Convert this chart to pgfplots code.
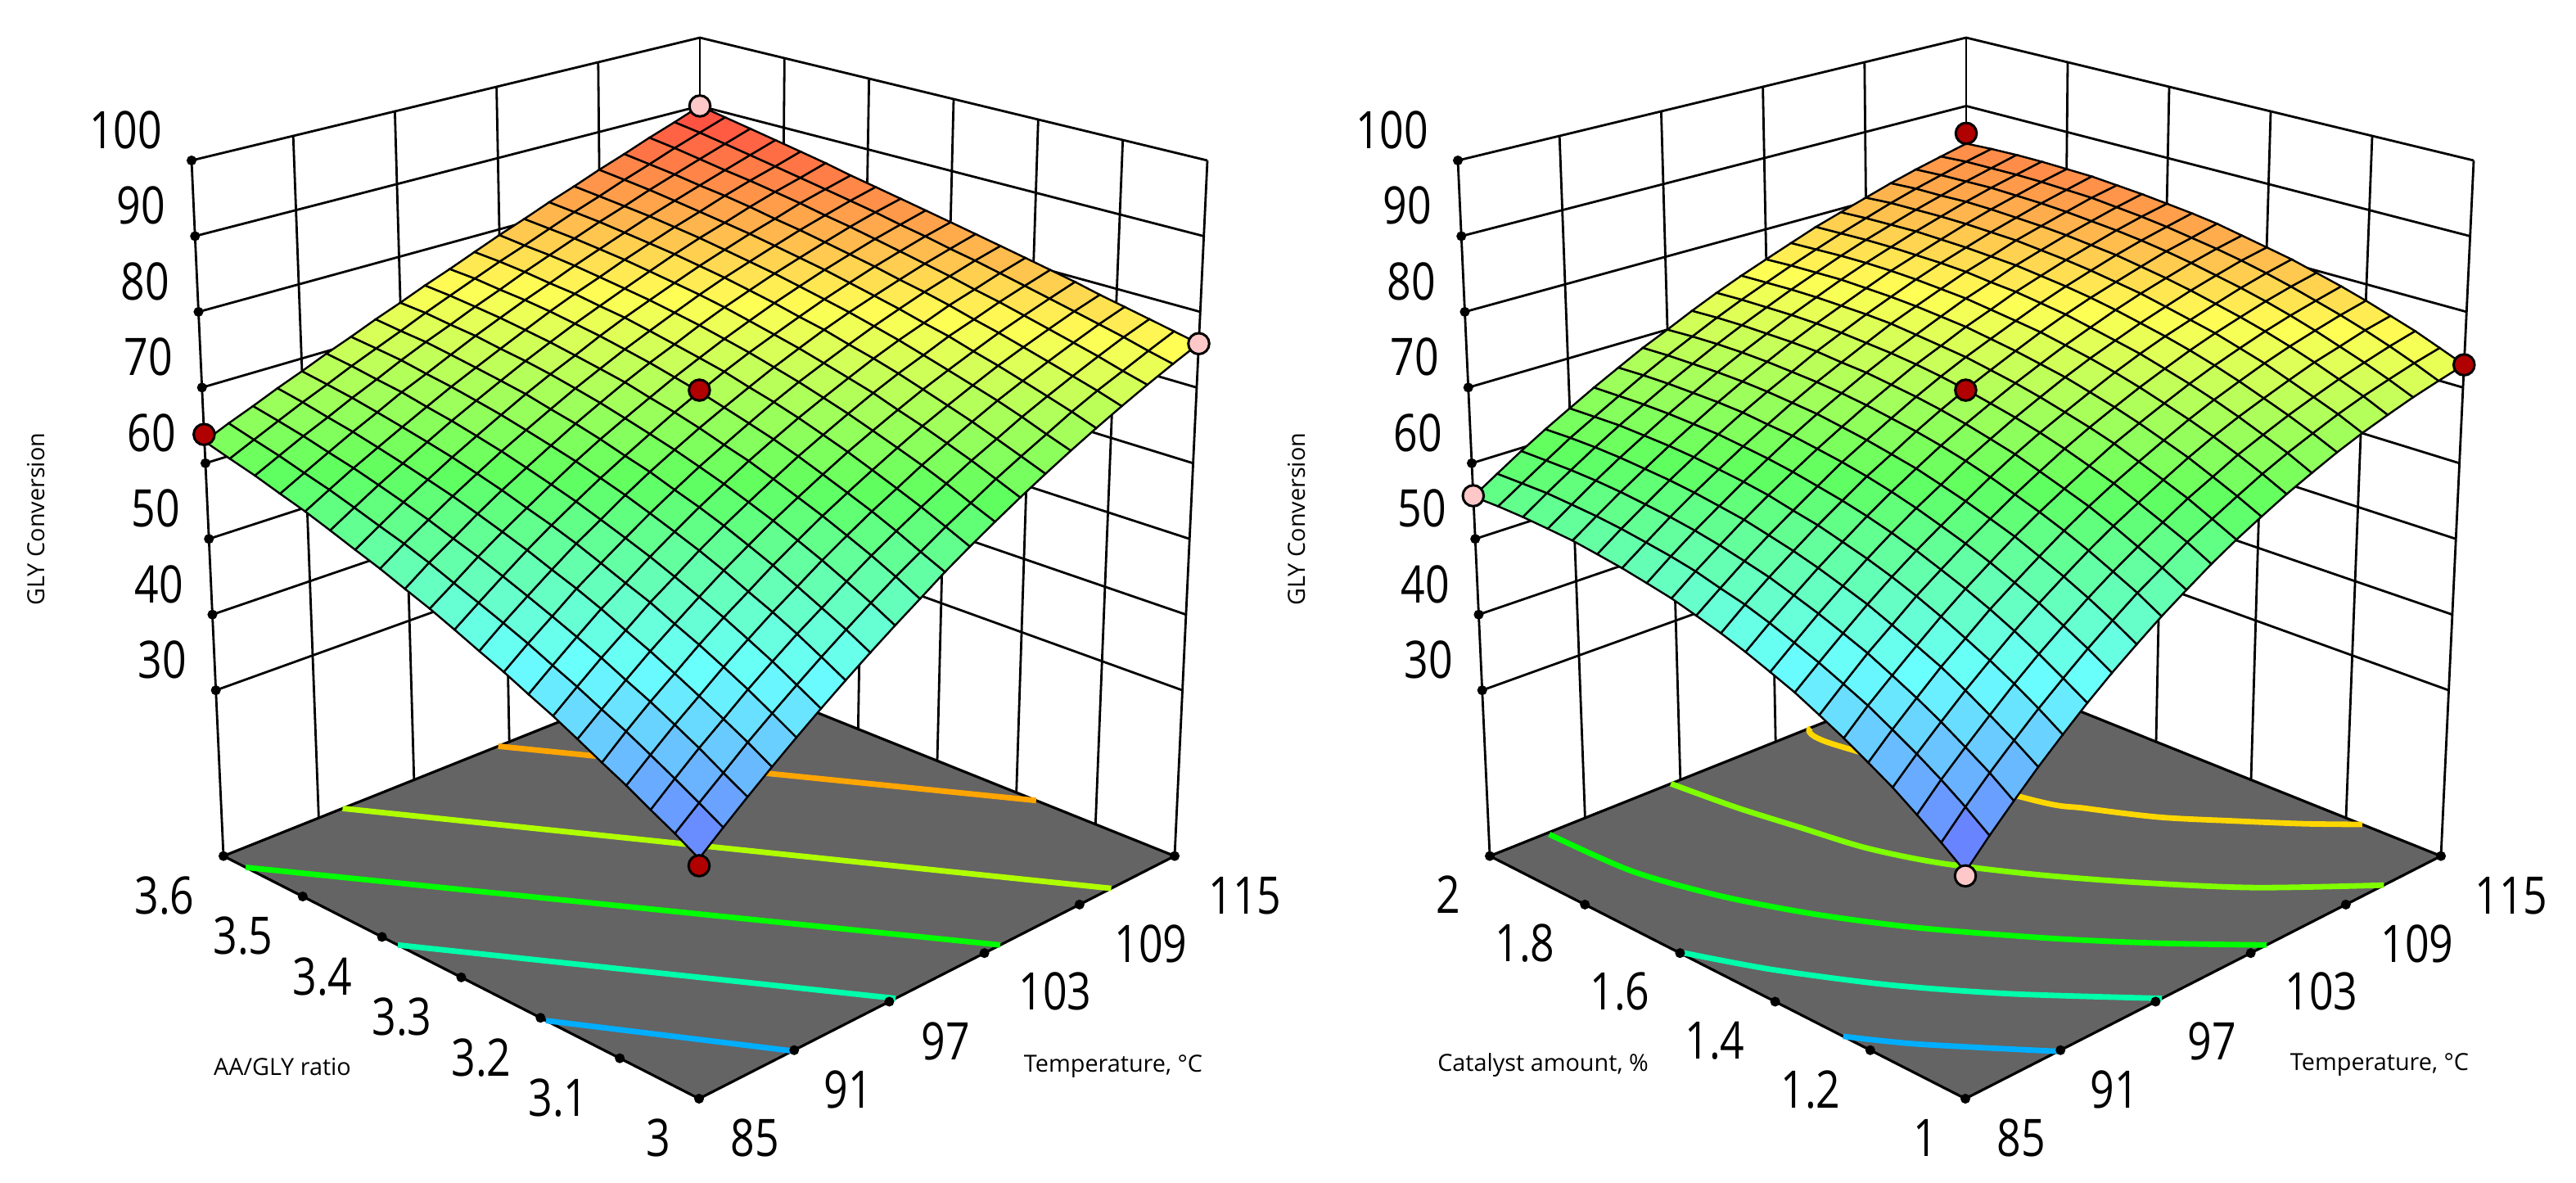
\documentclass[border=0pt]{standalone}
\usepackage{fontspec}
\setmainfont{Open Sans}
\newfontfamily\tickfont[FakeStretch=0.82]{Open Sans}
\usepackage{pgfplots}
\usepackage{pgfplotstable}
\pgfplotsset{compat=1.18}
\definecolor{floorgray}{RGB}{100,100,100}
\definecolor{ballred}{RGB}{176,0,0}
\definecolor{ballpink}{RGB}{255,200,200}
\definecolor{ctblue}{RGB}{0,174,255}
\definecolor{ctteal}{RGB}{0,255,170}
\definecolor{ctgreen}{RGB}{0,255,0}
\definecolor{ctlime}{RGB}{176,255,0}
\definecolor{ctlimeb}{RGB}{127,255,0}
\definecolor{ctorange}{RGB}{255,165,0}
\definecolor{ctgold}{RGB}{255,215,0}

% conversion on the grid: 21 x 21 values, one line per ratio/catalyst level, temperature rising along the line
\pgfplotstableread[row sep=\\,header=false]{
31.7\\33.9\\36.1\\38.3\\40.5\\42.7\\44.9\\47.1\\49.3\\51.5\\53.8\\56.0\\58.2\\60.4\\62.6\\64.8\\67.0\\69.2\\71.4\\73.6\\75.8\\
33.3\\35.5\\37.7\\40.0\\42.2\\44.4\\46.6\\48.8\\51.0\\53.2\\55.3\\57.5\\59.6\\61.8\\63.9\\66.0\\68.2\\70.3\\72.3\\74.4\\76.5\\
34.8\\37.1\\39.4\\41.6\\43.9\\46.1\\48.3\\50.4\\52.6\\54.8\\56.9\\59.0\\61.1\\63.2\\65.2\\67.3\\69.3\\71.3\\73.3\\75.3\\77.2\\
36.4\\38.7\\41.0\\43.2\\45.5\\47.7\\49.9\\52.0\\54.2\\56.3\\58.4\\60.4\\62.5\\64.5\\66.5\\68.5\\70.4\\72.3\\74.2\\76.1\\77.9\\
37.9\\40.3\\42.6\\44.8\\47.1\\49.3\\51.4\\53.6\\55.7\\57.8\\59.8\\61.8\\63.8\\65.8\\67.7\\69.6\\71.5\\73.3\\75.1\\76.9\\78.6\\
39.5\\41.8\\44.1\\46.4\\48.6\\50.8\\53.0\\55.1\\57.2\\59.2\\61.2\\63.2\\65.1\\67.0\\68.9\\70.7\\72.5\\74.3\\76.0\\77.7\\79.4\\
41.1\\43.4\\45.7\\47.9\\50.2\\52.3\\54.5\\56.6\\58.6\\60.6\\62.6\\64.5\\66.4\\68.3\\70.1\\71.8\\73.6\\75.2\\76.9\\78.5\\80.1\\
42.6\\44.9\\47.2\\49.5\\51.6\\53.8\\55.9\\58.0\\60.0\\62.0\\63.9\\65.8\\67.6\\69.4\\71.2\\72.9\\74.5\\76.2\\77.7\\79.3\\80.8\\
44.2\\46.5\\48.7\\51.0\\53.1\\55.2\\57.3\\59.3\\61.3\\63.2\\65.1\\67.0\\68.8\\70.5\\72.2\\73.9\\75.5\\77.1\\78.6\\80.1\\81.5\\
45.7\\48.0\\50.2\\52.4\\54.6\\56.6\\58.7\\60.7\\62.6\\64.5\\66.3\\68.1\\69.9\\71.6\\73.3\\74.9\\76.4\\77.9\\79.4\\80.8\\82.2\\
47.3\\49.5\\51.7\\53.9\\56.0\\58.0\\60.0\\61.9\\63.8\\65.7\\67.5\\69.3\\71.0\\72.6\\74.2\\75.8\\77.3\\78.8\\80.2\\81.6\\82.9\\
48.9\\51.0\\53.2\\55.3\\57.3\\59.3\\61.3\\63.2\\65.0\\66.8\\68.6\\70.3\\72.0\\73.6\\75.2\\76.7\\78.2\\79.6\\81.0\\82.3\\83.6\\
50.4\\52.6\\54.6\\56.7\\58.7\\60.6\\62.5\\64.4\\66.2\\68.0\\69.7\\71.3\\73.0\\74.6\\76.1\\77.6\\79.0\\80.4\\81.8\\83.1\\84.3\\
52.0\\54.1\\56.1\\58.1\\60.0\\61.9\\63.7\\65.5\\67.3\\69.0\\70.7\\72.3\\73.9\\75.5\\77.0\\78.4\\79.8\\81.2\\82.5\\83.8\\85.0\\
53.5\\55.5\\57.5\\59.4\\61.3\\63.1\\64.9\\66.7\\68.4\\70.0\\71.7\\73.3\\74.8\\76.3\\77.8\\79.2\\80.6\\81.9\\83.3\\84.5\\85.7\\
55.1\\57.0\\58.9\\60.7\\62.5\\64.3\\66.0\\67.7\\69.4\\71.0\\72.6\\74.1\\75.6\\77.1\\78.6\\80.0\\81.3\\82.7\\84.0\\85.2\\86.5\\
56.7\\58.5\\60.3\\62.0\\63.7\\65.4\\67.1\\68.7\\70.3\\71.9\\73.5\\75.0\\76.4\\77.9\\79.3\\80.7\\82.0\\83.4\\84.7\\85.9\\87.2\\
58.2\\59.9\\61.6\\63.3\\64.9\\66.6\\68.1\\69.7\\71.3\\72.8\\74.3\\75.7\\77.2\\78.6\\80.0\\81.4\\82.7\\84.0\\85.3\\86.6\\87.9\\
59.8\\61.4\\63.0\\64.5\\66.1\\67.6\\69.2\\70.7\\72.1\\73.6\\75.0\\76.5\\77.9\\79.3\\80.7\\82.0\\83.4\\84.7\\86.0\\87.3\\88.6\\
61.3\\62.8\\64.3\\65.8\\67.2\\68.7\\70.1\\71.5\\73.0\\74.4\\75.8\\77.2\\78.5\\79.9\\81.3\\82.6\\84.0\\85.3\\86.7\\88.0\\89.3\\
62.9\\64.3\\65.6\\67.0\\68.3\\69.7\\71.0\\72.4\\73.7\\75.1\\76.4\\77.8\\79.2\\80.5\\81.9\\83.2\\84.6\\85.9\\87.3\\88.6\\90.0\\
}\surfA
\pgfplotstableread[row sep=\\,header=false]{
30.4\\33.1\\35.7\\38.3\\40.8\\43.3\\45.7\\48.0\\50.3\\52.5\\54.7\\56.8\\58.8\\60.8\\62.7\\64.6\\66.4\\68.1\\69.8\\71.4\\73.0\\
32.4\\35.1\\37.7\\40.2\\42.7\\45.1\\47.5\\49.8\\52.1\\54.2\\56.4\\58.4\\60.4\\62.4\\64.3\\66.1\\67.9\\69.6\\71.2\\72.8\\74.3\\
34.3\\37.0\\39.5\\42.0\\44.5\\46.9\\49.2\\51.5\\53.7\\55.8\\57.9\\60.0\\61.9\\63.9\\65.7\\67.5\\69.2\\70.9\\72.5\\74.1\\75.6\\
36.2\\38.8\\41.3\\43.8\\46.2\\48.6\\50.9\\53.1\\55.3\\57.4\\59.4\\61.4\\63.4\\65.3\\67.1\\68.8\\70.5\\72.2\\73.7\\75.3\\76.7\\
37.9\\40.5\\43.0\\45.5\\47.8\\50.2\\52.4\\54.6\\56.8\\58.9\\60.9\\62.8\\64.7\\66.6\\68.4\\70.1\\71.8\\73.4\\74.9\\76.4\\77.8\\
39.6\\42.2\\44.6\\47.0\\49.4\\51.7\\53.9\\56.1\\58.2\\60.2\\62.2\\64.2\\66.0\\67.8\\69.6\\71.3\\72.9\\74.5\\76.0\\77.4\\78.8\\
41.2\\43.7\\46.2\\48.5\\50.9\\53.1\\55.3\\57.4\\59.5\\61.5\\63.5\\65.4\\67.2\\69.0\\70.7\\72.4\\74.0\\75.5\\77.0\\78.4\\79.7\\
42.8\\45.2\\47.6\\50.0\\52.3\\54.5\\56.6\\58.7\\60.8\\62.8\\64.7\\66.5\\68.3\\70.1\\71.8\\73.4\\74.9\\76.4\\77.9\\79.3\\80.6\\
44.2\\46.6\\49.0\\51.3\\53.6\\55.8\\57.9\\59.9\\62.0\\63.9\\65.8\\67.6\\69.4\\71.1\\72.7\\74.3\\75.8\\77.3\\78.7\\80.1\\81.3\\
45.6\\48.0\\50.3\\52.6\\54.8\\57.0\\59.1\\61.1\\63.1\\65.0\\66.8\\68.6\\70.3\\72.0\\73.6\\75.2\\76.7\\78.1\\79.5\\80.8\\82.0\\
46.9\\49.3\\51.6\\53.8\\56.0\\58.1\\60.2\\62.1\\64.1\\66.0\\67.8\\69.5\\71.2\\72.9\\74.5\\76.0\\77.4\\78.8\\80.2\\81.4\\82.7\\
48.1\\50.4\\52.7\\54.9\\57.0\\59.1\\61.2\\63.1\\65.0\\66.9\\68.7\\70.4\\72.0\\73.6\\75.2\\76.7\\78.1\\79.5\\80.8\\82.0\\83.2\\
49.3\\51.6\\53.8\\56.0\\58.1\\60.1\\62.1\\64.0\\65.9\\67.7\\69.5\\71.1\\72.8\\74.3\\75.9\\77.3\\78.7\\80.0\\81.3\\82.5\\83.6\\
50.3\\52.6\\54.8\\56.9\\59.0\\61.0\\63.0\\64.9\\66.7\\68.5\\70.2\\71.8\\73.4\\75.0\\76.4\\77.9\\79.2\\80.5\\81.7\\82.9\\84.0\\
51.3\\53.5\\55.7\\57.8\\59.8\\61.8\\63.7\\65.6\\67.4\\69.1\\70.8\\72.5\\74.0\\75.5\\77.0\\78.3\\79.7\\80.9\\82.1\\83.3\\84.3\\
52.2\\54.4\\56.5\\58.6\\60.6\\62.6\\64.5\\66.3\\68.0\\69.8\\71.4\\73.0\\74.5\\76.0\\77.4\\78.7\\80.0\\81.2\\82.4\\83.5\\84.6\\
53.1\\55.2\\57.3\\59.3\\61.3\\63.2\\65.1\\66.9\\68.6\\70.3\\71.9\\73.4\\74.9\\76.4\\77.7\\79.0\\80.3\\81.5\\82.6\\83.7\\84.7\\
53.8\\55.9\\58.0\\60.0\\61.9\\63.8\\65.6\\67.4\\69.1\\70.7\\72.3\\73.8\\75.3\\76.7\\78.0\\79.3\\80.5\\81.7\\82.8\\83.8\\84.8\\
54.5\\56.6\\58.6\\60.6\\62.5\\64.3\\66.1\\67.8\\69.5\\71.1\\72.6\\74.1\\75.5\\76.9\\78.2\\79.4\\80.6\\81.7\\82.8\\83.8\\84.8\\
55.1\\57.1\\59.1\\61.1\\62.9\\64.7\\66.5\\68.2\\69.8\\71.4\\72.9\\74.3\\75.7\\77.0\\78.3\\79.5\\80.7\\81.8\\82.8\\83.8\\84.7\\
55.6\\57.6\\59.6\\61.5\\63.3\\65.1\\66.8\\68.5\\70.0\\71.6\\73.1\\74.5\\75.8\\77.1\\78.4\\79.5\\80.6\\81.7\\82.7\\83.6\\84.5\\
}\surfB

% the cube is seen in perspective: corners of floor and top in picture units, blended between them
\pgfplotsset{
  rsm/.style={
    scale only axis,height=361.25pt,ymin=0,ymax=1445,y dir=reverse,hide axis,clip=false,
    anchor=south west,
    point meta min=30,point meta max=90,
    colormap={rsm}{rgb255=(105,105,255) rgb255=(105,255,255) rgb255=(95,255,95) rgb255=(255,255,85) rgb255=(255,70,65)},
    declare function={
      px(\X,\Y,\Z)=(1-\Z)*((1-\X)*(1-\Y)*854+\X*(1-\Y)*1435+(1-\X)*\Y*273+\X*\Y*855)
        +\Z*((1-\X)*(1-\Y)*854+\X*(1-\Y)*1475+(1-\X)*\Y*234+\X*\Y*855);
      py(\X,\Y,\Z)=(1-\Z)*((1-\X)*(1-\Y)*1342+\X*(1-\Y)*1045.6+(1-\X)*\Y*1045.6+\X*\Y*813)
        +\Z*((1-\X)*(1-\Y)*200+\X*(1-\Y)*196+(1-\X)*\Y*196+\X*\Y*46);
      nx(\T)=(\T-85)/30;
      nz(\z)=(\z-8.1)/91.9;
      rowj(\k)=floor((\k+0.5)/21);
      coli(\k)=\k-21*rowj(\k);
    },
  },
  table/prj/.style={
    x expr={px(nx(\thisrow{T}),ny(\thisrow{R}),nz(\thisrow{z}))},
    y expr={py(nx(\thisrow{T}),ny(\thisrow{R}),nz(\thisrow{z}))},
    row sep=\\,
  },
  table/grid/.style={
    x index=0,y index=0,
    x expr={px(coli(\coordindex)/20,rowj(\coordindex)/20,nz(\thisrowno{0}))},
    y expr={py(coli(\coordindex)/20,rowj(\coordindex)/20,nz(\thisrowno{0}))},
    meta index=0,
  },
  ctline/.style={line width=1.7pt,no markers},
}
\tikzset{
  ticklab/.style={inner sep=0pt,font=\tickfont\fontsize{15.8}{16}\selectfont},
  axlab/.style={inner sep=0pt,font=\fontsize{7.2}{8}\selectfont},
}
\newcommand\frameline[1]{\addplot[black,line width=.7pt,no markers] table[prj]{T R z\\ #1};}
\newcommand\tickdots[1]{\addplot[only marks,mark=*,mark size=1.3pt,black] table[prj]{T R z\\ #1};}
\newcommand\ball[2]{\addplot[only marks,mark=*,mark size=3.2pt,mark options={fill=#1,draw=black,line width=.75pt}] table[prj]{T R z\\ #2};}
\newcommand\surface[1]{\addplot[surf,shader=faceted,faceted color=black,mesh/rows=21,mesh/cols=21,line width=.6pt,point meta=explicit] table[grid] {#1};}
% floor and walls of one cube, #1 and #2 the lower and upper value of the second factor
\newcommand\cube[2]{
  \addplot[fill=floorgray,draw=black,line width=.8pt,no markers] table[prj]{T R z\\ 85 #1 8.1\\ 115 #1 8.1\\ 115 #2 8.1\\ 85 #2 8.1\\ 85 #1 8.1\\};
}
\newcommand\walls[2]{
  \pgfplotsinvokeforeach{30,40,50,60,70,80,90,100}{\frameline{85 #2 ##1\\ 115 #2 ##1\\ 115 #1 ##1\\}}
  \pgfplotsinvokeforeach{85,91,97,103,109}{\frameline{##1 #2 8.1\\ ##1 #2 100\\}}
  \frameline{115 #2 8.1\\ 115 #2 100\\}
  \frameline{115 #1 8.1\\ 115 #1 100\\}
  \tickdots{85 #2 8.1\\ 115 #1 8.1\\ 85 #1 8.1\\ 85 #2 30\\ 85 #2 40\\ 85 #2 50\\ 85 #2 60\\ 85 #2 70\\ 85 #2 80\\ 85 #2 90\\ 85 #2 100\\
        91 #1 8.1\\ 97 #1 8.1\\ 103 #1 8.1\\ 109 #1 8.1\\}
}
\newcommand\tl[3]{\node[ticklab] at (axis cs:#1,#2) {#3};}
\newcommand\tlz[3]{\node[ticklab,anchor=east] at (axis cs:#1,#2) {#3};}
\newcommand\shared{
  \tlz{199}{159}{100}\tlz{203}{251}{90}\tlz{208}{344}{80}\tlz{212}{436}{70}
  \tlz{216}{529}{60}\tlz{221}{621}{50}\tlz{225}{714}{40}\tlz{229}{806}{30}
  \tl{922}{1390}{85}\tl{1036}{1331}{91}\tl{1155}{1272}{97}
  \tl{1289}{1211}{103}\tl{1406}{1153}{109}\tl{1521}{1094}{115}
}

\begin{document}
\begin{tikzpicture}
\useasboundingbox (0,0) rectangle (786.75pt,361.25pt);
\begin{axis}[rsm,width=386.75pt,xmin=0,xmax=1547,at={(0pt,0pt)},declare function={ny(\r)=(\r-3)/0.6;}]
\cube{3}{3.6}
\addplot[ctline,ctorange] table[prj]{T R z\\ 102.3 3.6 8.1\\ 115 3.175 8.1\\};
\addplot[ctline,ctlime] table[prj]{T R z\\ 92.5 3.6 8.1\\ 111 3 8.1\\};
\addplot[ctline,ctgreen] table[prj]{T R z\\ 85 3.572 8.1\\ 104 3 8.1\\};
\addplot[ctline,ctteal] table[prj]{T R z\\ 85 3.38 8.1\\ 97.4 3 8.1\\};
\addplot[ctline,ctblue] table[prj]{T R z\\ 85 3.193 8.1\\ 90.9 3 8.1\\};
\walls{3}{3.6}
\pgfplotsinvokeforeach{3.1,3.2,3.3,3.4,3.5}{\frameline{115 #1 8.1\\ 115 #1 100\\}}
\tickdots{85 3.1 8.1\\ 85 3.2 8.1\\ 85 3.3 8.1\\ 85 3.4 8.1\\ 85 3.5 8.1\\}
\ball{ballpink}{115 3.6 90\\ 115 3 75.8\\}
\surface{\surfA}
\ball{ballred}{85 3.6 63.8\\ 100 3.3 67.7\\ 85 3 31\\}
\shared
\tl{201}{1094}{3.6}\tl{297}{1143}{3.5}\tl{394}{1193}{3.4}\tl{491}{1242}{3.3}\tl{588}{1292}{3.2}\tl{682}{1341}{3.1}\tl{804}{1390}{3}
\node[axlab] at (axis cs:345,1303) {AA/GLY ratio};
\node[axlab] at (axis cs:1360,1303) {Temperature, °C};
\node[axlab,rotate=90] at (axis cs:44,634) {GLY Conversion};
\end{axis}
\begin{axis}[rsm,width=400pt,xmin=0,xmax=1600,at={(386.75pt,0pt)},declare function={ny(\r)=\r-1;}]
\cube{1}{2}
\addplot[ctline,ctgold,smooth,tension=.5] table[prj]{T R z\\ 105.2 2 8.1\\ 104.7 1.94 8.1\\ 106.96 1.594 8.1\\ 108 1.515 8.1\\ 109.6 1.413 8.1\\ 111.5 1.323 8.1\\ 113.4 1.234 8.1\\ 115 1.166 8.1\\};
\addplot[ctline,ctlimeb,smooth,tension=.5] table[prj]{T R z\\ 96.4 2 8.1\\ 96.9 1.878 8.1\\ 97.6 1.765 8.1\\ 98.3 1.652 8.1\\ 99.6 1.5415 8.1\\ 101.8 1.414 8.1\\ 104.4 1.284 8.1\\ 107.5 1.143 8.1\\ 111.4 1 8.1\\};
\addplot[ctline,ctgreen,smooth,tension=.5] table[prj]{T R z\\ 88.6 1.995 8.1\\ 88.9 1.83 8.1\\ 90.2 1.687 8.1\\ 92.1 1.551 8.1\\ 94.5 1.416 8.1\\ 97.9 1.255 8.1\\ 100.9 1.125 8.1\\ 104 1 8.1\\};
\addplot[ctline,ctteal,smooth,tension=.5] table[prj]{T R z\\ 85.15 1.596 8.1\\ 87 1.472 8.1\\ 89.8 1.32 8.1\\ 93.1 1.172 8.1\\ 97.4 1 8.1\\};
\addplot[ctline,ctblue,smooth,tension=.5] table[prj]{T R z\\ 85 1.257 8.1\\ 86.9 1.164 8.1\\ 90.85 1 8.1\\};
\walls{1}{2}
\pgfplotsinvokeforeach{1.2,1.4,1.6,1.8}{\frameline{115 #1 8.1\\ 115 #1 100\\}}
\tickdots{85 1.2 8.1\\ 85 1.4 8.1\\ 85 1.6 8.1\\ 85 1.8 8.1\\}
\ball{ballpink}{85 2 55.7\\ 85 1 30\\}
\surface{\surfB}
\ball{ballred}{115 2 86\\ 115 1 73\\ 100 1.5 67.7\\}
\shared
\tl{222}{1093}{2}\tl{316}{1152}{1.8}\tl{432}{1211}{1.6}\tl{548}{1271}{1.4}\tl{665}{1331}{1.2}\tl{805}{1390}{1}
\node[axlab] at (axis cs:338,1301) {Catalyst amount, \%};
\node[axlab] at (axis cs:1360,1301) {Temperature, °C};
\node[axlab,rotate=90] at (axis cs:37,634) {GLY Conversion};
\end{axis}
\end{tikzpicture}
\end{document}
